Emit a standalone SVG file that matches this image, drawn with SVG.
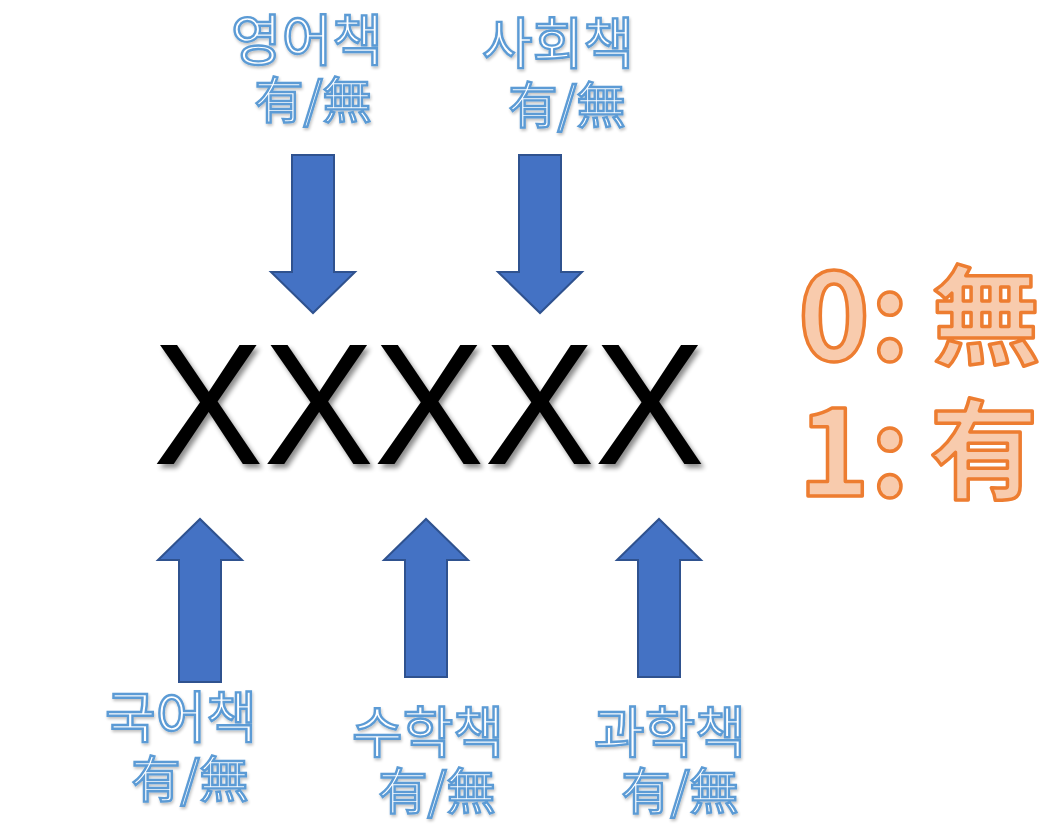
<svg xmlns="http://www.w3.org/2000/svg" width="1060" height="830" viewBox="0 0 1060 830">
<style>
.arrow{fill:#4472C4;stroke:#2F528F;stroke-width:2}
.lbl{font-family:"Noto Sans CJK KR","Noto Sans",sans-serif;fill:#FFFFFF;stroke:#5B9BD5;stroke-width:2.4;text-anchor:middle;filter:url(#soft)}
.l1{font-size:55px}
.l2{font-size:49px}
.big{font-family:"Liberation Sans",Arial,sans-serif;font-size:172px;fill:#000}
.key{font-family:"Noto Sans CJK KR","Noto Sans",sans-serif;font-weight:bold;fill:#F8CBAD;stroke:#ED7D31;stroke-width:3.5;stroke-linejoin:round}
</style>
<defs>
<filter id="shadow" x="-10%" y="-10%" width="120%" height="130%">
<feGaussianBlur in="SourceAlpha" stdDeviation="2.5"/>
<feOffset dx="3" dy="4" result="b"/>
<feComponentTransfer><feFuncA type="linear" slope="0.45"/></feComponentTransfer>
<feMerge><feMergeNode/><feMergeNode in="SourceGraphic"/></feMerge>
</filter>
<filter id="soft" x="-10%" y="-20%" width="120%" height="150%">
<feGaussianBlur in="SourceAlpha" stdDeviation="1.5"/>
<feOffset dx="1" dy="2"/>
<feComponentTransfer><feFuncA type="linear" slope="0.25"/></feComponentTransfer>
<feMerge><feMergeNode/><feMergeNode in="SourceGraphic"/></feMerge>
</filter>
</defs>
<rect width="1060" height="830" fill="#fff"/>
<g id="code">
<text class="big" x="153" y="464" textLength="552" lengthAdjust="spacingAndGlyphs" filter="url(#shadow)">XXXXX</text>
</g>
<g id="connectors">
<path class="arrow" d="M292,155 H334 V272 H355 L313,313 L271,272 H292 Z"/>
<path class="arrow" d="M519,155 H561 V272 H582 L540,313 L498,272 H519 Z"/>
<path class="arrow" d="M179,682 H221 V560 H242 L200,519 L158,560 H179 Z"/>
<path class="arrow" d="M405,677 H447 V560 H468 L426,519 L384,560 H405 Z"/>
<path class="arrow" d="M638,677 H680 V560 H701 L659,519 L617,560 H638 Z"/>
</g>
<g id="english">
<text class="lbl l1" x="307" y="60">영어책</text>
<text class="lbl l2" x="313" y="118">有/無</text>
</g>
<g id="social">
<text class="lbl l1" x="558" y="63">사회책</text>
<text class="lbl l2" x="567" y="123">有/無</text>
</g>
<g id="korean">
<text class="lbl l1" x="181" y="737">국어책</text>
<text class="lbl l2" x="190" y="797">有/無</text>
</g>
<g id="math">
<text class="lbl l1" x="428" y="752">수학책</text>
<text class="lbl l2" x="437" y="809">有/無</text>
</g>
<g id="science">
<text class="lbl l1" x="670" y="752">과학책</text>
<text class="lbl l2" x="680" y="809">有/無</text>
</g>
<g id="legend">
<text class="key" x="798" y="360" font-size="122">0:</text>
<text class="key" x="932" y="356" font-size="108">無</text>
<text class="key" x="798" y="496" font-size="122">1:</text>
<text class="key" x="930" y="490" font-size="108">有</text>
</g>
</svg>
